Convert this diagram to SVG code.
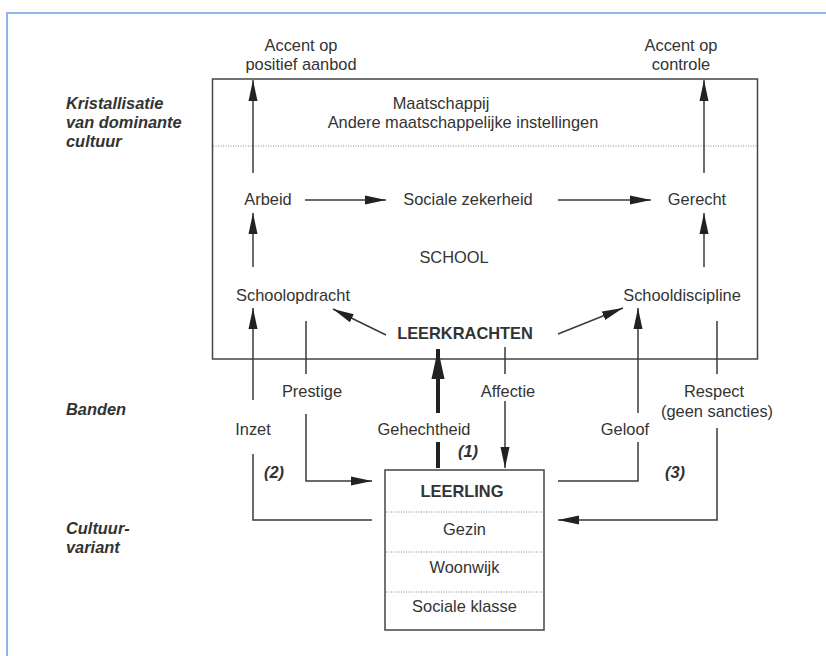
<svg xmlns="http://www.w3.org/2000/svg" width="826" height="656" viewBox="0 0 826 656">
<defs>
<style>
text { font-family: "Liberation Sans", Arial, sans-serif; font-size: 16.4px; fill: #333; text-anchor: middle; }
.l { text-anchor: start; }
.b { font-weight: bold; }
.bi { font-weight: bold; font-style: italic; }
.ln { stroke: #3a3a3a; stroke-width: 1.5; fill: none; }
.thick { stroke: #222; stroke-width: 4; fill: none; }
.arr { marker-end: url(#ah); }
.arrb { marker-end: url(#ahb); }
.box { stroke: #444; stroke-width: 1.5; fill: none; }
.dot { stroke: #888; stroke-width: 1; stroke-dasharray: 1 1.5; fill: none; }
.frame { stroke: #8db5e8; stroke-width: 2; fill: none; }
</style>
<marker id="ah" markerUnits="userSpaceOnUse" markerWidth="22" markerHeight="10" refX="21" refY="5" orient="auto">
<path d="M0,0.5 L21,5 L0,9.5 z" fill="#222"/>
</marker>
<marker id="ahb" markerUnits="userSpaceOnUse" markerWidth="31" markerHeight="14" refX="30" refY="7" orient="auto">
<path d="M0,0.5 L30,7 L0,13.5 z" fill="#222"/>
</marker>
</defs>
<rect width="826" height="656" fill="#fff"/>
<g id="frame">
<polyline class="frame" points="7,656 7,13 826,13"/>
</g>
<g id="side-labels">
<text class="bi l" x="66" y="109">Kristallisatie</text>
<text class="bi l" x="66" y="128">van dominante</text>
<text class="bi l" x="66" y="147">cultuur</text>
<text class="bi l" x="66" y="415">Banden</text>
<text class="bi l" x="66" y="534">Cultuur-</text>
<text class="bi l" x="66" y="553">variant</text>
</g>
<g id="school-box">
<rect class="box" x="212.5" y="79" width="545" height="280"/>
<line class="dot" x1="213" y1="146" x2="757" y2="146"/>
</g>
<g id="accent-positief">
<text x="301" y="51">Accent op</text>
<text x="301" y="70">positief aanbod</text>
</g>
<g id="accent-controle">
<text x="681" y="51">Accent op</text>
<text x="681" y="70">controle</text>
</g>
<g id="maatschappij">
<text x="441" y="109">Maatschappij</text>
<text x="463" y="128">Andere maatschappelijke instellingen</text>
</g>
<g id="arbeid"><text x="268" y="205">Arbeid</text></g>
<g id="sociale-zekerheid"><text x="468" y="205">Sociale zekerheid</text></g>
<g id="gerecht"><text x="697" y="205">Gerecht</text></g>
<g id="school"><text x="454" y="263">SCHOOL</text></g>
<g id="schoolopdracht"><text x="293" y="301">Schoolopdracht</text></g>
<g id="schooldiscipline"><text x="682" y="301">Schooldiscipline</text></g>
<g id="leerkrachten"><text class="b" x="465" y="339">LEERKRACHTEN</text></g>
<g id="leerling">
<rect class="box" x="385" y="470" width="159" height="160"/>
<line class="dot" x1="386" y1="512" x2="543" y2="512"/>
<line class="dot" x1="386" y1="552" x2="543" y2="552"/>
<line class="dot" x1="386" y1="592" x2="543" y2="592"/>
<text class="b" x="462" y="497">LEERLING</text>
<text x="464.5" y="535">Gezin</text>
<text x="464.5" y="573">Woonwijk</text>
<text x="464.5" y="612">Sociale klasse</text>
</g>
<g id="connectors">
<line class="ln arr" x1="253" y1="173" x2="253" y2="80"/>
<line class="ln arr" x1="704" y1="173" x2="704" y2="80"/>
<line class="ln arr" x1="305" y1="200" x2="386" y2="200"/>
<line class="ln arr" x1="558" y1="200" x2="651" y2="200"/>
<line class="ln arr" x1="253" y1="267" x2="253" y2="213"/>
<line class="ln arr" x1="704" y1="267" x2="704" y2="213"/>
<line class="ln arr" x1="386" y1="335" x2="333" y2="309"/>
<line class="ln arr" x1="558" y1="334" x2="623" y2="308"/>
<line class="ln arr" x1="253" y1="400" x2="253" y2="308"/>
<polyline class="ln" points="372,520 253,520 253,454"/>
<line class="ln" x1="306" y1="321" x2="306" y2="374"/>
<polyline class="ln arr" points="306,414 306,481 372,481"/>
<line class="thick" x1="438" y1="468" x2="438" y2="442"/>
<line class="thick arrb" x1="438" y1="413" x2="438" y2="349"/>
<line class="ln" x1="505" y1="347" x2="505" y2="374"/>
<line class="ln arr" x1="505" y1="401" x2="505" y2="468"/>
<polyline class="ln" points="558,481 638,481 638,442"/>
<line class="ln arr" x1="638" y1="413" x2="638" y2="308"/>
<line class="ln" x1="717" y1="321" x2="717" y2="374"/>
<polyline class="ln arr" points="717,428 717,520 558,520"/>
</g>
<g id="band-labels">
<text x="253" y="435">Inzet</text>
<text x="312" y="397">Prestige</text>
<text x="424" y="435">Gehechtheid</text>
<text x="508" y="397">Affectie</text>
<text x="625" y="435">Geloof</text>
<text x="714" y="397">Respect</text>
<text x="717" y="417">(geen sancties)</text>
<text class="bi" x="274" y="478">(2)</text>
<text class="bi" x="468" y="457">(1)</text>
<text class="bi" x="675" y="478">(3)</text>
</g>
</svg>
